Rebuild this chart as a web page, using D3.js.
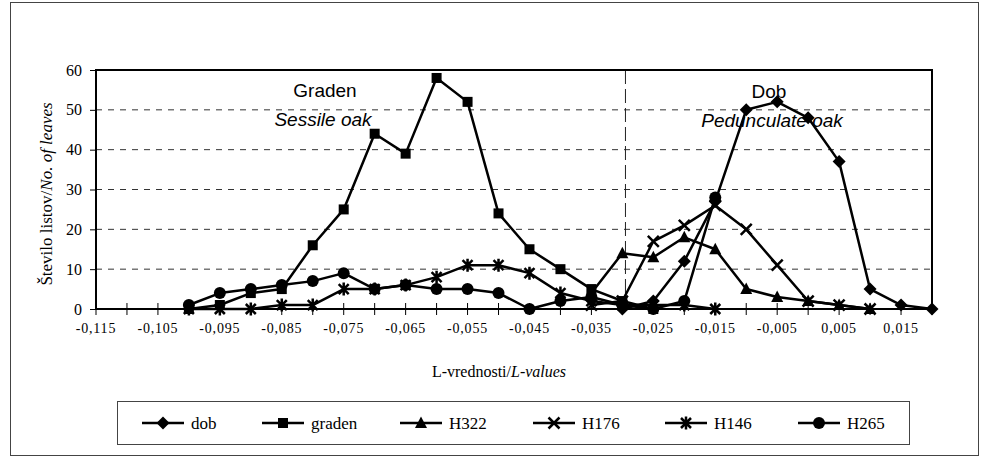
<!DOCTYPE html>
<html><head><meta charset="utf-8">
<script src="https://cdn.jsdelivr.net/npm/d3@7"></script>
<style>body{margin:0;background:#fff}svg{display:block}</style>
</head><body>
<svg id="c" width="981" height="459"></svg>
<script>
// ---- data ----
const xValues = [-0.1,-0.095,-0.09,-0.085,-0.08,-0.075,-0.07,-0.065,-0.06,-0.055,-0.05,-0.045,-0.04,-0.035,-0.03,-0.025,-0.02,-0.015,-0.01,-0.005,0,0.005,0.01,0.015,0.02];
const dob    = [null,null,null,null,null,null,null,null,null,null,null,null,null,null,0,2,12,27,50,52,48,37,5,1,0];
const graden = [0,1,4,5,16,25,44,39,58,52,24,15,10,5,2,0,null,null,null,null,null,null,null,null,null];
const H322   = [null,null,null,null,null,null,null,null,null,null,null,null,null,4,14,13,18,15,5,3,2,1,0,null,null];
const H176   = [null,null,null,null,null,null,null,null,null,null,null,null,null,1,2,17,21,26,20,11,2,1,0,null,null];
const H146   = [0,0,0,1,1,5,5,6,8,11,11,9,4,2,1,1,1,0,null,null,null,null,null,null,null];
const H265   = [1,4,5,6,7,9,5,6,5,5,4,0,2,3,1,0,2,28,null,null,null,null,null,null,null];
const seriesNames = ["dob","graden","H322","H176","H146","H265"];
const seriesValues = [dob,graden,H322,H176,H146,H265];
const xTickLabels = [-0.115,-0.105,-0.095,-0.085,-0.075,-0.065,-0.055,-0.045,-0.035,-0.025,-0.015,-0.005,0.005,0.015];
const yTicks = [0,10,20,30,40,50,60];

// ---- layout ----
const svg = d3.select("#c");
const L=96,R=932,T=70,B=309;
const x = d3.scaleLinear().domain([-0.115,0.02]).range([L,R]);
const y = d3.scaleLinear().domain([0,60]).range([B,T]);
const serif="Liberation Serif, Times New Roman, serif";

svg.append("rect").attr("x",10.5).attr("y",2.5).attr("width",968).attr("height",453)
  .attr("fill","none").attr("stroke","#444").attr("stroke-width",1);

// gridlines
svg.append("g").selectAll("line").data(yTicks.filter(d=>d>0&&d<60)).join("line")
  .attr("x1",L).attr("x2",R).attr("y1",d=>y(d)).attr("y2",d=>y(d))
  .attr("stroke","#333").attr("stroke-width",1).attr("stroke-dasharray","6,6");

// separator
svg.append("line").attr("x1",x(-0.0295)).attr("x2",x(-0.0295)).attr("y1",T).attr("y2",B)
  .attr("stroke","#222").attr("stroke-width",1).attr("stroke-dasharray","14,5");

// y axis
const yAxis = d3.axisLeft(y).tickValues(yTicks).tickSize(6).tickPadding(8).tickFormat(d3.format("d"));
const gy = svg.append("g").attr("transform",`translate(${L},0)`).call(yAxis);
gy.select(".domain").remove();
gy.selectAll("text").attr("font-family",serif).attr("font-size",16).attr("fill","#000");
gy.selectAll("line").attr("stroke","#000");

// x axis ticks (every 0.005)
const allTicks = d3.range(28).map(i=>-0.115+i*0.005);
svg.append("g").selectAll("line").data(allTicks).join("line")
  .attr("x1",d=>x(d)).attr("x2",d=>x(d)).attr("y1",B-6).attr("y2",B+6)
  .attr("stroke","#000").attr("stroke-width",1);
svg.append("g").selectAll("text").data(xTickLabels).join("text")
  .attr("x",d=>x(d)).attr("y",333).attr("text-anchor","middle")
  .attr("font-family",serif).attr("font-size",14).attr("letter-spacing",0.8)
  .text(d=>d3.format(".3f")(d).replace(".",",").replace("−","-"));

// plot frame
svg.append("rect").attr("x",L).attr("y",T).attr("width",R-L).attr("height",B-T)
  .attr("fill","none").attr("stroke","#000").attr("stroke-width",2);

// markers
function marker(g,type){
  const k="#000";
  if(type==="dob") g.append("path").attr("d","M0,-6.5L6.5,0L0,6.5L-6.5,0Z").attr("fill",k);
  else if(type==="graden") g.append("rect").attr("x",-5).attr("y",-5).attr("width",10).attr("height",10).attr("fill",k);
  else if(type==="H322") g.append("path").attr("d","M0,-6.5L6,5L-6,5Z").attr("fill",k);
  else if(type==="H176") g.append("path").attr("d","M-5.5,-5.5L5.5,5.5M-5.5,5.5L5.5,-5.5").attr("stroke",k).attr("stroke-width",2.5);
  else if(type==="H146") g.append("path").attr("d","M-5,-5L5,5M-5,5L5,-5M0,-6.5L0,6.5").attr("stroke",k).attr("stroke-width",2.5);
  else if(type==="H265") g.append("circle").attr("r",6).attr("fill",k);
}

const line = d3.line().defined(d=>d.v!==null).x(d=>x(d.x)).y(d=>y(d.v));
seriesNames.forEach((name,i)=>{
  const pts = xValues.map((xv,j)=>({x:xv,v:seriesValues[i][j]}));
  svg.append("path").datum(pts).attr("d",line).attr("fill","none")
    .attr("stroke","#000").attr("stroke-width",2.5).attr("stroke-linejoin","round");
  pts.filter(p=>p.v!==null).forEach(p=>{
    const g = svg.append("g").attr("transform",`translate(${x(p.x)},${y(p.v)})`);
    marker(g,name);
  });
});

// annotations
const ann = svg.append("g").attr("font-family","Liberation Sans, Arial, sans-serif").attr("font-size",19).attr("text-anchor","middle");
ann.append("text").attr("x",325).attr("y",97).text("Graden");
ann.append("text").attr("x",323).attr("y",126).attr("font-style","italic").text("Sessile oak");
ann.append("text").attr("x",769).attr("y",98).text("Dob");
ann.append("text").attr("x",772).attr("y",127).attr("font-style","italic").text("Pedunculate oak");

// axis titles
const xt = svg.append("text").attr("x",499).attr("y",377).attr("text-anchor","middle")
  .attr("font-family",serif).attr("font-size",16);
xt.append("tspan").text("L-vrednosti/");
xt.append("tspan").attr("font-style","italic").text("L-values");
const yt = svg.append("text").attr("transform","translate(52,194) rotate(-90)").attr("text-anchor","middle")
  .attr("font-family",serif).attr("font-size",17);
yt.append("tspan").text("Število listov/");
yt.append("tspan").attr("font-style","italic").text("No. of leaves");

// legend
svg.append("rect").attr("x",117.5).attr("y",401.5).attr("width",792).attr("height",43)
  .attr("fill","none").attr("stroke","#444").attr("stroke-width",1);
const legX=[142,262,400,533,665,798];
seriesNames.forEach((name,i)=>{
  const g=svg.append("g").attr("transform",`translate(${legX[i]},423)`);
  g.append("line").attr("x1",0).attr("x2",42).attr("stroke","#000").attr("stroke-width",2.5);
  marker(g.append("g").attr("transform","translate(21,0)"),name);
  g.append("text").attr("x",49).attr("y",6).attr("font-family",serif).attr("font-size",17).text(name);
});
</script>
</body></html>
